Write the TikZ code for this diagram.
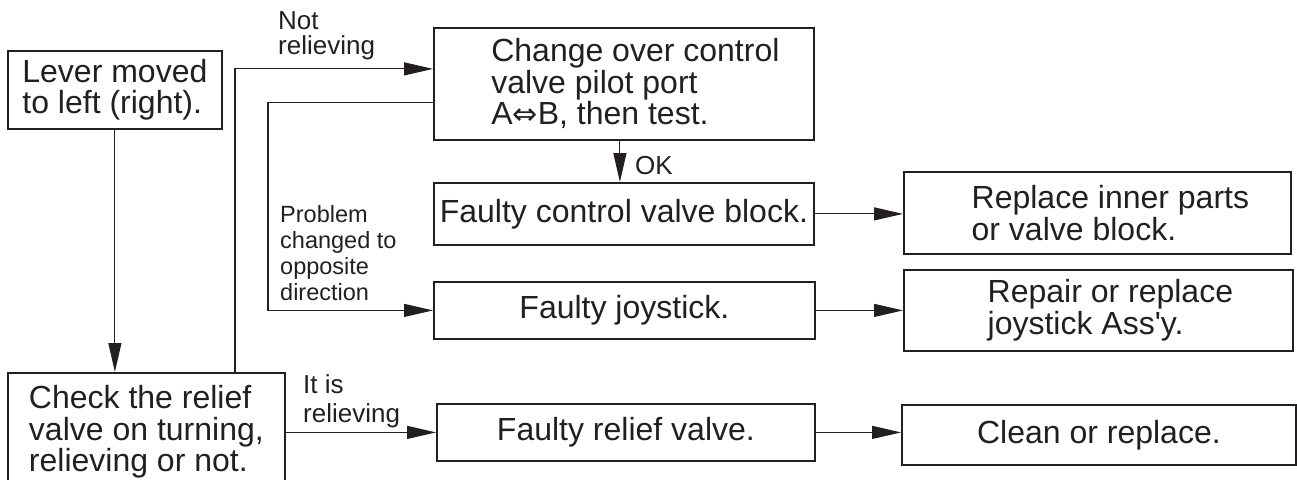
\documentclass[tikz,border=0pt]{standalone}
\usepackage{fontspec}
\setmainfont{Liberation Sans}[Ligatures=TeXOff]
\newfontfamily\symf{DejaVu Sans}
\usetikzlibrary{arrows.meta,calc}
\definecolor{ink}{RGB}{35,31,32}
\newcommand\padl[1]{\hspace*{#1pt}}
\begin{document}
\begin{tikzpicture}[x=1pt,y=-1pt,
  box/.style={draw=ink, line width=1.8pt, inner sep=0pt, anchor=north west, align=left, text=ink,
    font=\fontsize{32}{31.5}\selectfont},
  lab/.style={inner sep=0pt, anchor=north west, align=left, text=ink},
  arr/.style={draw=ink, line width=1.1pt, -{Triangle[length=29pt,width=13pt]}}]
\useasboundingbox (0,0) rectangle (1297,479);
% boxes
\node[box, minimum width=214pt, minimum height=78pt] (lever) at (7,50) {Lever moved\\to left (right).};
\node[box, minimum width=277pt, minimum height=118pt] (check) at (7,372) {Check the relief\\valve on turning,\\relieving or not.};
\node[box, minimum width=380pt, minimum height=112pt] (change) at (433,27) {\padl{23}Change over control\\\padl{23}valve pilot port\\\padl{23}A{\symf\fontsize{30}{30}\selectfont ⇔}B, then test.};
\node[box, minimum width=380pt, minimum height=62pt] (fcv) at (433,182) {Faulty control valve block.};
\node[box, minimum width=381pt, minimum height=57pt] (joy) at (433,281) {Faulty joystick.};
\node[box, minimum width=378pt, minimum height=57pt] (relief) at (436,403) {Faulty relief valve.};
\node[box, minimum width=387pt, minimum height=82pt] (replace) at (903,171) {\padl{26}Replace inner parts\\\padl{26}or valve block.};
\node[box, minimum width=389pt, minimum height=81pt] (repair) at (903,269) {\padl{24}Repair or replace\\\padl{24}joystick Ass'y.};
\node[box, minimum width=394pt, minimum height=60pt] (clean) at (901,404) {Clean or replace.};
% labels
\node[lab, font=\fontsize{26}{25}\selectfont] (nrl) at (278,11.4) {Not\\relieving};
\node[lab, font=\fontsize{26}{29}\selectfont] (irl) at (303,374.4) {It is\\relieving};
\node[lab, font=\fontsize{23.5}{26}\selectfont] (pl) at (280,204.8) {Problem\\changed to\\opposite\\direction};
\node[lab, font=\fontsize{26}{26}\selectfont] (okl) at (635,156.3) {OK};
% connectors
\coordinate (nrfoot) at ([xshift=228pt]check.north west);
\coordinate (pbend) at ([xshift=-165pt]joy.west);
\draw[arr] (lever.south) -- (lever.south |- check.north);
\draw[arr] (nrfoot) |- ([yshift=15pt]change.west);
\draw[arr] ([yshift=-19pt]change.west) -| (pbend) -- (joy.west);
\draw[arr] ([xshift=-4pt]change.south) -- ([xshift=-4pt]fcv.north);
\draw[arr] (fcv.east) -- (fcv.east -| replace.west);
\draw[arr] (joy.east) -- (joy.east -| repair.west);
\draw[arr] (check.east |- relief.west) -- (relief.west);
\draw[arr] (relief.east) -- (relief.east -| clean.west);
\end{tikzpicture}
\end{document}
